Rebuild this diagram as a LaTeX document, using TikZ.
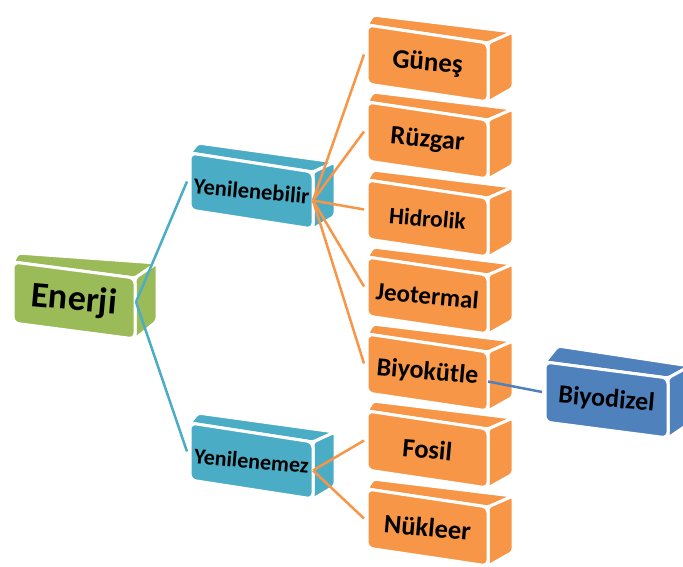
\documentclass[tikz,border=0pt]{standalone}
\usepackage{fontspec}
\setmainfont{Carlito}
\definecolor{cgreen}{HTML}{9BBB59}
\definecolor{caqua}{HTML}{4BACC6}
\definecolor{corange}{HTML}{F79646}
\definecolor{cblue}{HTML}{4F81BD}
\tikzset{
  face/.style={draw=white, line width=3pt, rounded corners=3pt},
  frontface/.style={draw=white, line width=3pt, rounded corners=6pt},
  lbl/.style={font=\bfseries, text=black, rotate=-5, inner sep=0pt},
  link/.style={line width=2.5pt},
}
\newcommand{\DL}{6}\newcommand{\DV}{10}\newcommand{\DR}{25}\newcommand{\DVR}{11}
% #1 name, #2 x, #3 y, #4 w, #5 h, #6 shear, #7 colour, #8 font size, #9 text
\newcommand{\cubebox}[9]{%
  \pgfmathsetmacro\cbXa{#2}\pgfmathsetmacro\cbYa{#3}%
  \pgfmathsetmacro\cbXb{#2+#4}\pgfmathsetmacro\cbYb{#3+#6}%
  \pgfmathsetmacro\cbYc{#3+#6+#5}\pgfmathsetmacro\cbYd{#3+#5}%
  \fill[face, fill=#7] (\cbXa,\cbYa) -- (\cbXb,\cbYb) -- ({\cbXb+\DR},{\cbYb-\DVR}) -- ({\cbXa+\DL},{\cbYa-\DV}) -- cycle;
  \fill[face, fill=#7] (\cbXb,\cbYb) -- (\cbXb,\cbYc) -- ({\cbXb+\DR},{\cbYc-\DVR-3}) -- ({\cbXb+\DR},{\cbYb-\DVR}) -- cycle;
  \fill[frontface, fill=#7] (\cbXa,\cbYa) -- (\cbXb,\cbYb) -- (\cbXb,\cbYc) -- (\cbXa,\cbYd) -- cycle;
  \coordinate (#1-l) at ({\cbXa-3},{\cbYa+#5/2});
  \coordinate (#1-r) at (\cbXb,{\cbYb+#5/2});
  \node[lbl, font=\bfseries\fontsize{#8}{#8}\selectfont] (#1) at ({(\cbXa+\cbXb)/2},{(\cbYa+\cbYc)/2}) {#9};
}
\begin{document}
\begin{tikzpicture}[x=1pt,y=-1pt]
\useasboundingbox (0,0) rectangle (683,567);
\clip (0,0) rectangle (683,567);
% root
\renewcommand{\DL}{5}\renewcommand{\DV}{9}\renewcommand{\DR}{22}\renewcommand{\DVR}{15}
\cubebox{enerji}{13}{262}{122}{61}{16}{cgreen}{36}{Enerji}
\coordinate (enerji-r) at (136,302);
% level 2
\renewcommand{\DL}{8}\renewcommand{\DV}{10}\renewcommand{\DR}{22}\renewcommand{\DVR}{10}
\cubebox{yen}{190}{153}{123}{57}{19}{caqua}{22.5}{Yenilenebilir}
\cubebox{yem}{190}{423}{123}{57}{19}{caqua}{22}{Yenilenemez}
% level 3
\renewcommand{\DL}{6}\renewcommand{\DV}{10}\renewcommand{\DR}{25}\renewcommand{\DVR}{11}
\cubebox{gunes}{367}{25}{121}{59}{18}{corange}{27}{Güneş}
\cubebox{ruzgar}{367}{102}{121}{59}{18}{corange}{26.5}{Rüzgar}
\cubebox{hidrolik}{367}{180}{121}{59}{18}{corange}{23.5}{Hidrolik}
\cubebox{jeotermal}{367}{257}{121}{59}{18}{corange}{25}{Jeotermal}
\cubebox{biyokutle}{367}{334}{121}{59}{18}{corange}{26}{Biyokütle}
\cubebox{fosil}{367}{411}{121}{59}{18}{corange}{26.5}{Fosil}
\cubebox{nukleer}{367}{489}{121}{59}{18}{corange}{26.5}{Nükleer}
% level 4
\renewcommand{\DL}{13}\renewcommand{\DV}{16}\renewcommand{\DR}{22}\renewcommand{\DVR}{12}
\cubebox{biyodizel}{545}{362}{123}{60}{16}{cblue}{26}{Biyodizel}
% connectors
\draw[link, caqua] (enerji-r) -- (yen-l);
\draw[link, caqua] (enerji-r) -- (yem-l);
\foreach \t in {gunes,ruzgar,hidrolik,jeotermal,biyokutle}
  \draw[link, corange] (yen-r) -- (\t-l);
\foreach \t in {fosil,nukleer}
  \draw[link, corange] (yem-r) -- (\t-l);
\draw[link, cblue] (biyokutle-r) -- (biyodizel-l);
\end{tikzpicture}
\end{document}
